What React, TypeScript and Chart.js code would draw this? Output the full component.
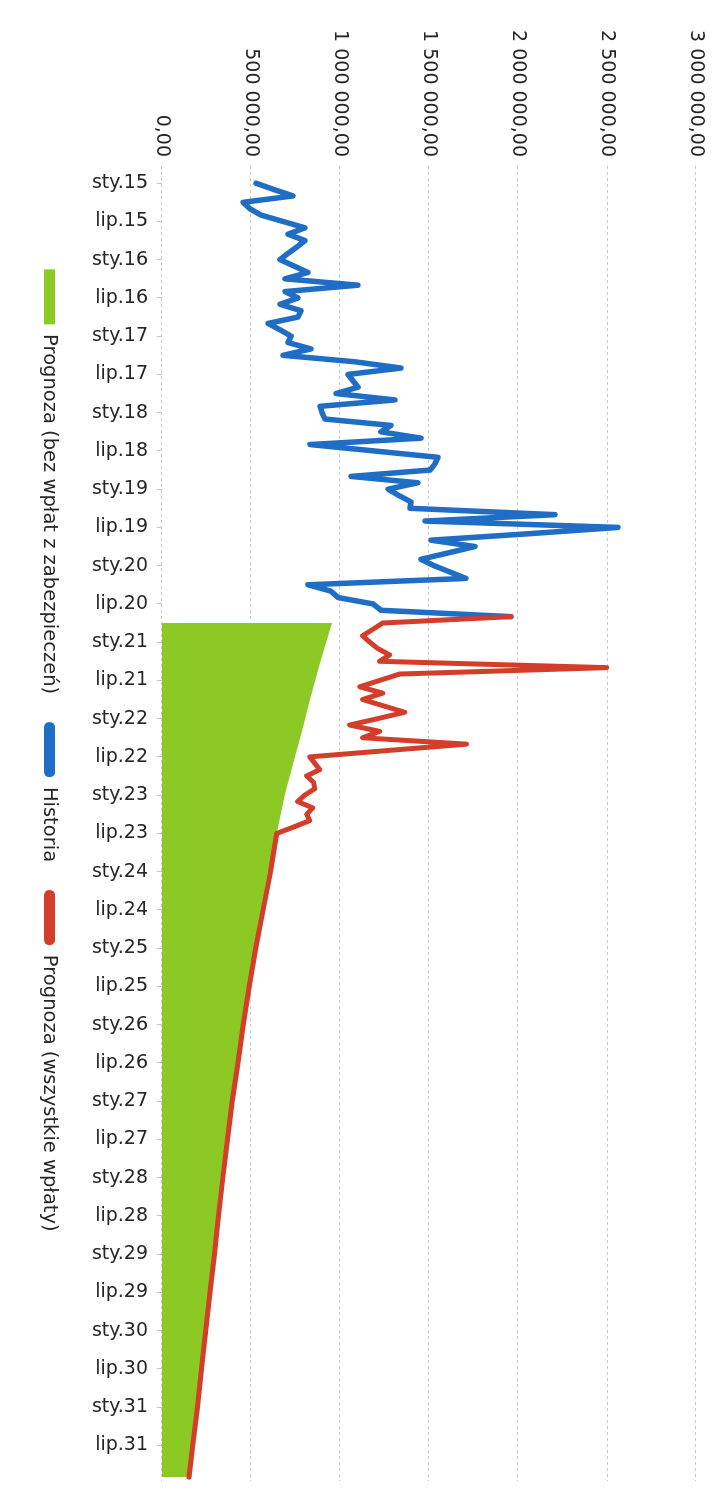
import { useEffect, useRef } from 'react';
import { Chart, registerables } from 'chart.js';

Chart.register(...registerables);

// Category tick labels (every 6 months, starting January 2015)
const tickLabels = [
  'sty.15', 'lip.15', 'sty.16', 'lip.16', 'sty.17', 'lip.17', 'sty.18', 'lip.18',
  'sty.19', 'lip.19', 'sty.20', 'lip.20', 'sty.21', 'lip.21', 'sty.22', 'lip.22',
  'sty.23', 'lip.23', 'sty.24', 'lip.24', 'sty.25', 'lip.25', 'sty.26', 'lip.26',
  'sty.27', 'lip.27', 'sty.28', 'lip.28', 'sty.29', 'lip.29', 'sty.30', 'lip.30',
  'sty.31', 'lip.31',
];
const monthsPerTick = 6;

// Value axis ticks
const valueTicks = [0, 500000, 1000000, 1500000, 2000000, 2500000, 3000000];

// Historia: monthly values from sty.15 (month 0)
const historiaStartMonth = 0;
const historiaValues = [
  528000, 629000, 736000, 455000, 494000, 556000, 680000, 803000, 708000, 803000,
  758000, 708000, 663000, 742000, 820000, 691000, 1101000, 691000, 764000, 663000,
  781000, 764000, 596000, 663000, 725000, 708000, 837000, 680000, 1079000, 1343000,
  1045000, 1073000, 1101000, 978000, 1309000, 888000, 899000, 916000, 1287000, 1230000,
  1455000, 831000, 1191000, 1551000, 1534000, 1506000, 1062000, 1438000, 1270000, 1331000,
  1399000, 1393000, 2208000, 1478000, 2562000, 2056000, 1511000, 1758000, 1607000, 1455000,
  1528000, 1618000, 1708000, 820000, 949000, 989000, 1185000, 1230000, 1961000,
];

// Prognoza (wszystkie wpłaty): monthly values from month 68 (wrz.20)
const wszystkieStartMonth = 68;
const wszystkieValues = [
  1961000, 1240000, 1184000, 1127000, 1167000, 1212000, 1279000, 1223000, 2498000, 1335000,
  1223000, 1111000, 1240000, 1127000, 1245000, 1364000, 1212000, 1054000, 1223000, 1127000,
  1711000, 1268000, 830000, 858000, 886000, 813000, 852000, 858000, 802000, 762000,
  847000, 813000, 830000, 740000,
];

// Prognoza (bez wpłat z zabezpieczeń): values read at these months
const bezMonths = [
  69, 75, 81, 86, 91, 96, 102, 108, 114, 120, 126, 132,
  138, 144, 150, 156, 162, 168, 174, 180, 186, 192, 198, 203,
];
const bezValues = [
  955000, 890000, 832000, 787000, 737000, 690000, 645000, 610000, 568000, 527000, 490000, 457000,
  427000, 395000, 368000, 342000, 317000, 295000, 270000, 246000, 222000, 199000, 173000, 152000,
];

const FONT = 'DejaVu Sans';
const TEXT = '#262626';
const BLUE = '#1f6dc4';
const RED = '#d43d2a';
const GREEN = '#8cc924';

const W = 1502;
const H = 723;

function fmtValue(v: number): string {
  const s = Math.round(v).toString().replace(/\B(?=(\d{3})+(?!\d))/g, ' ');
  return s + ',00';
}

export default function App() {
  const ref = useRef<HTMLCanvasElement>(null);

  useEffect(() => {
    if (!ref.current) return;
    const historia = historiaValues.map((v, i) => ({ x: historiaStartMonth + i, y: v }));
    const bez = bezMonths.map((m, i) => ({ x: m, y: bezValues[i] }));
    const lastJagged = wszystkieStartMonth + wszystkieValues.length - 1;
    const wszystkie = wszystkieValues
      .map((v, i) => ({ x: wszystkieStartMonth + i, y: v }))
      .concat(bez.filter((p) => p.x > lastJagged));
    const tickMonths = tickLabels.map((_, i) => i * monthsPerTick);
    const legendColors = [GREEN, BLUE, RED];

    const chart = new Chart(ref.current, {
      type: 'line',
      data: {
        datasets: [
          {
            label: 'Prognoza (bez wpłat z zabezpieczeń)',
            data: bez,
            borderWidth: 0,
            borderColor: GREEN,
            backgroundColor: GREEN,
            fill: 'origin',
            pointRadius: 0,
            order: 2,
          },
          {
            label: 'Historia',
            data: historia,
            borderColor: BLUE,
            backgroundColor: BLUE,
            borderWidth: 5.5,
            borderJoinStyle: 'round',
            borderCapStyle: 'round',
            pointRadius: 0,
            fill: false,
            order: 1,
          },
          {
            label: 'Prognoza (wszystkie wpłaty)',
            data: wszystkie,
            borderColor: RED,
            backgroundColor: RED,
            borderWidth: 5,
            borderJoinStyle: 'round',
            borderCapStyle: 'round',
            pointRadius: 0,
            fill: false,
            order: 0,
          },
        ],
      },
      options: {
        animation: false,
        responsive: false,
        layout: { padding: { top: 27, right: 21, bottom: 29.75, left: 20 } },
        plugins: {
          tooltip: { enabled: false },
          legend: {
            position: 'bottom',
            labels: {
              boxWidth: 55,
              boxHeight: 11,
              padding: 28,
              useBorderRadius: true,
              color: TEXT,
              font: { family: FONT, size: 19.5 },
              generateLabels: (c: any) =>
                c.data.datasets.map((ds: any, i: number) => ({
                  text: ds.label,
                  fillStyle: legendColors[i],
                  strokeStyle: legendColors[i],
                  lineWidth: 0,
                  hidden: false,
                  datasetIndex: i,
                  fontColor: TEXT,
                  borderRadius: i === 0 ? 0 : 5,
                })),
            },
          },
        },
        scales: {
          x: {
            type: 'linear',
            min: -2.7,
            max: 203.6,
            afterBuildTicks: (scale: any) => {
              scale.ticks = tickMonths.map((v) => ({ value: v }));
            },
            afterFit: (scale: any) => {
              scale.height = 74.75;
            },
            ticks: {
              autoSkip: false,
              minRotation: 90,
              maxRotation: 90,
              padding: 9,
              color: TEXT,
              font: { family: FONT, size: 19 },
              callback: (v: any) => tickLabels[Math.round(Number(v) / monthsPerTick)] ?? '',
            },
            grid: {
              drawOnChartArea: false,
              drawTicks: true,
              tickLength: 5,
              color: '#c4c4c4',
            },
            border: { display: false },
          },
          y: {
            type: 'linear',
            min: 0,
            max: 3000000,
            afterBuildTicks: (scale: any) => {
              scale.ticks = valueTicks.map((v) => ({ value: v }));
            },
            afterFit: (scale: any) => {
              scale.width = 146;
            },
            ticks: {
              padding: 9,
              color: TEXT,
              font: { family: FONT, size: 19 },
              callback: (v: any) => fmtValue(Number(v)),
            },
            grid: { color: '#c8c8c8', lineWidth: 1, drawTicks: false },
            border: { display: false, dash: [3, 3] },
          },
        },
      },
    } as any);

    return () => chart.destroy();
  }, []);

  return (
    <div
      style={{
        position: 'absolute',
        left: 0,
        top: 0,
        width: H,
        height: W,
        overflow: 'hidden',
        background: '#ffffff',
      }}
    >
      <div
        style={{
          position: 'absolute',
          left: 0,
          top: 0,
          width: W,
          height: H,
          transformOrigin: '0 0',
          transform: `translate(${H}px, 0px) rotate(90deg)`,
        }}
      >
        <canvas ref={ref} width={W} height={H} style={{ display: 'block', width: W, height: H }} />
      </div>
    </div>
  );
}
